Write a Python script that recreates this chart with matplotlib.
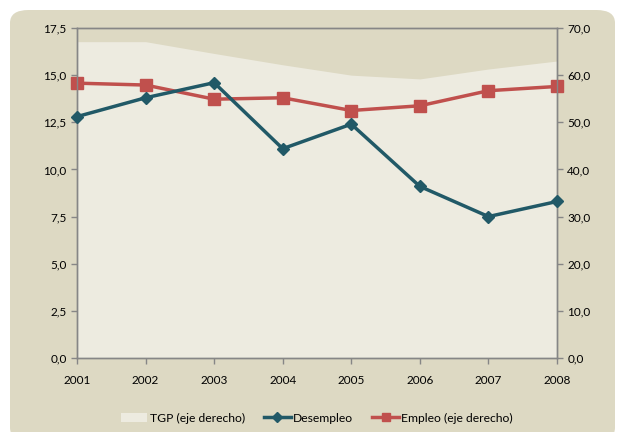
import matplotlib
matplotlib.use('Agg')
import matplotlib.pyplot as plt
from matplotlib.patches import FancyBboxPatch, Patch
from matplotlib.lines import Line2D
from matplotlib.ticker import FixedLocator, FuncFormatter

years = [2001, 2002, 2003, 2004, 2005, 2006, 2007, 2008]
desempleo = [12.8, 13.8, 14.6, 11.1, 12.4, 9.1, 7.5, 8.3]
empleo = [58.3, 57.9, 54.9, 55.2, 52.5, 53.5, 56.7, 57.6]
tgp = [67.1, 67.1, 64.6, 62.2, 60.0, 59.2, 61.3, 63.0]

left_ticks = [0, 2.5, 5, 7.5, 10, 12.5, 15, 17.5]
right_ticks = [0, 10, 20, 30, 40, 50, 60, 70]

bg = '#DDD9C3'
area_col = '#EDEBE0'
blue = '#215967'
red = '#C0504D'
axis_col = '#868686'

plt.rcParams['font.family'] = ['Lato', 'DejaVu Sans']


def comma(v, pos):
    return f'{v:.1f}'.replace('.', ',')


fig = plt.figure(figsize=(6.2, 4.32), dpi=100)
fig.patch.set_facecolor('white')

# rounded tan background
box = FancyBboxPatch((10 / 620, -0.02), 605 / 620, 422 / 432 + 0.02,
                     boxstyle='round,pad=0,rounding_size=0.03',
                     transform=fig.transFigure, facecolor=bg,
                     edgecolor='none', zorder=-5)
fig.patches.append(box)

ax = fig.add_axes([77 / 620, 1 - 358 / 432, 480 / 620, 330 / 432])
ax.set_facecolor('none')
ax2 = ax.twinx()

# TGP area + Empleo on the right axis
ax2.fill_between(years, 0, tgp, color=area_col, lw=0, zorder=1)
ax2.plot(years, empleo, color=red, lw=2.5, marker='s', markersize=8,
         zorder=4, clip_on=False)
ax2.set_ylim(0, 70)
ax2.yaxis.set_major_locator(FixedLocator(right_ticks))
ax2.yaxis.set_major_formatter(FuncFormatter(comma))

# Desempleo on the left axis
ax.set_zorder(ax2.get_zorder() + 1)
ax.plot(years, desempleo, color=blue, lw=2.5, marker='D', markersize=6,
        zorder=5, clip_on=False)
ax.set_ylim(0, 17.5)
ax.set_xlim(2001, 2008)
ax.yaxis.set_major_locator(FixedLocator(left_ticks))
ax.yaxis.set_major_formatter(FuncFormatter(comma))
ax.set_xticks(years)

for a in (ax, ax2):
    for s in a.spines.values():
        s.set_color(axis_col)
        s.set_linewidth(1.0)
    a.tick_params(colors=axis_col, labelcolor='black', labelsize=8.5,
                  length=4, width=1)
ax.tick_params(axis='x', pad=8)

handles = [Patch(facecolor=area_col, edgecolor='none', label='TGP (eje derecho)'),
           Line2D([], [], color=blue, lw=2.5, marker='D', markersize=5, label='Desempleo'),
           Line2D([], [], color=red, lw=2.5, marker='s', markersize=6, label='Empleo (eje derecho)')]
fig.legend(handles=handles, loc='center', bbox_to_anchor=(0.511, 0.032), ncol=3,
           frameon=False, fontsize=8.7, handlelength=2.2, columnspacing=1.6,
           handletextpad=0.2)

fig.savefig('out.png', dpi=100, facecolor=fig.get_facecolor())
